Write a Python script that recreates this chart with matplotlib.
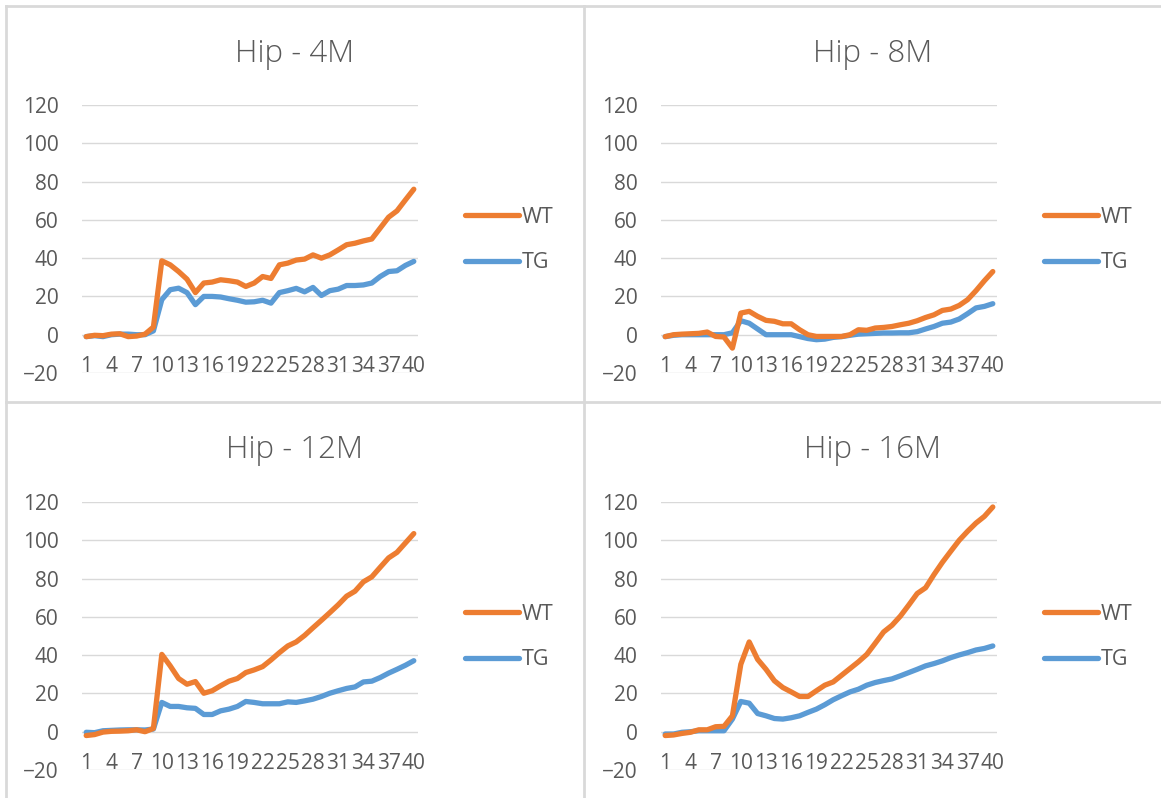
import matplotlib
matplotlib.use("Agg")
import matplotlib.pyplot as plt
from matplotlib.lines import Line2D

plt.rcParams['font.family'] = ['Open Sans', 'DejaVu Sans']

# ---- data -------------------------------------------------------------
days = list(range(1, 41))
tick_days = list(range(1, 41, 3))
y_ticks = [-20, 0, 20, 40, 60, 80, 100, 120]
series_names = ["WT", "TG"]
panel_titles = ["Hip - 4M", "Hip - 8M", "Hip - 12M", "Hip - 16M"]

hip4_wt = [-1, -0.3, -0.5, 0.3, 0.5, -1, -0.7, 0.3, 4, 38.6, 36.5, 33, 29, 22, 27,
           27.5, 28.7, 28.2, 27.5, 25.2, 27, 30.4, 29.4, 36.5, 37.4, 39, 39.5, 41.7,
           40, 41.7, 44.3, 47, 47.8, 49, 50, 55.7, 61.4, 64.7, 70.4, 76]
hip4_tg = [-1, -0.5, -1, 0, 0.3, 0.3, 0, 0, 2, 18.3, 23.5, 24.3, 22, 15.7, 20, 20,
           19.7, 18.8, 18, 17, 17.2, 18, 16.5, 22, 23, 24.2, 22.4, 24.7, 20.5, 23,
           23.8, 25.7, 25.7, 26, 27, 30.4, 33, 33.4, 36.2, 38.3]

hip8_wt = [-1, 0, 0.3, 0.5, 0.7, 1.4, -0.9, -1.2, -7, 11.3, 12.2, 9.6, 7.5, 7, 5.7,
           5.7, 2.6, 0, -0.9, -0.9, -0.9, -0.9, 0, 2.6, 2.3, 3.5, 3.8, 4.3, 5.2, 6,
           7.3, 9, 10.4, 12.7, 13.4, 15.3, 18.3, 23, 28.2, 33]
hip8_tg = [-1, -0.3, 0, 0, 0, 0, 0, 0, 1, 7.3, 6, 3, 0, 0, 0, 0, -1, -2, -2.6, -2.3,
           -1.4, -1, -0.3, 0.3, 0.5, 0.7, 0.9, 0.9, 1, 1, 1.6, 3, 4.3, 6, 6.6, 8.2,
           11, 14, 14.8, 16.2]

hip12_wt = [-2, -1.5, -0.2, 0.2, 0.3, 0.5, 1, 0, 1.7, 40.4, 34.4, 27.8, 24.8, 26.2,
            20.1, 21.4, 24, 26.4, 27.8, 30.9, 32.3, 34, 37.5, 41.3, 44.8, 46.9, 50.3,
            54.3, 58.2, 62.2, 66.3, 70.8, 73.4, 78.3, 80.9, 85.9, 90.8, 93.7, 98.6,
            103.5]
hip12_tg = [-0.3, -0.5, 0.5, 0.7, 0.9, 1, 1, 0.9, 1.4, 15.3, 13.2, 13.2, 12.5, 12.2,
            9, 9, 10.9, 11.8, 13.2, 15.8, 15.3, 14.6, 14.6, 14.6, 15.6, 15.3, 16.1,
            17, 18.4, 20.1, 21.4, 22.6, 23.4, 26, 26.4, 28.3, 30.6, 32.6, 34.7, 37.1]

hip16_wt = [-2, -1.7, -0.9, -0.3, 1, 1, 2.6, 2.8, 8.3, 35.2, 46.9, 37.8, 32.6, 26.6,
            23.1, 20.8, 18.4, 18.4, 21.4, 24.3, 26, 29.5, 33, 36.5, 40.4, 46.2, 52.1,
            55.6, 60.4, 66.2, 72.2, 75.2, 82.1, 88.5, 94.3, 100, 104.7, 109, 112.5,
            117.4]
hip16_tg = [-1.2, -1.2, -0.3, 0, 0.5, 0.5, 0.5, 0.5, 6.6, 15.8, 14.9, 9.5, 8.3, 6.9,
            6.6, 7.3, 8.3, 10.1, 11.8, 14.1, 16.7, 18.8, 20.8, 22.2, 24.3, 25.7, 26.7,
            27.6, 29.2, 30.9, 32.6, 34.4, 35.6, 37, 38.7, 40.1, 41.3, 42.7, 43.5, 44.8]

panel_data = [(hip4_wt, hip4_tg), (hip8_wt, hip8_tg),
              (hip12_wt, hip12_tg), (hip16_wt, hip16_tg)]

# ---- style ------------------------------------------------------------
W, H = 1161, 798
ORANGE = "#ED7D31"
BLUE = "#5B9BD5"
GRID = "#D9D9D9"
TEXT = "#595959"

fig = plt.figure(figsize=(W / 100, H / 100), dpi=100)
fig.patch.set_facecolor("white")


def px_axes(left, top, width, height):
    return fig.add_axes([left / W, 1 - (top + height) / H, width / W, height / H])


# panel layout in pixels: (plot left, plot top, chart-area centre x, chart top)
layout = [(82, 105, 295, 6), (661, 105, 873, 6),
          (82, 502, 295, 402), (661, 502, 873, 402)]
plot_w, plot_h = 336, 268

for (wt, tg), title, (left, top, cx, ctop) in zip(panel_data, panel_titles, layout):
    ax = px_axes(left, top, plot_w, plot_h)
    ax.set_xlim(0.5, 40.5)
    ax.set_ylim(-20, 120)
    for s in ax.spines.values():
        s.set_visible(False)
    ax.set_yticks(y_ticks)
    ax.yaxis.grid(True, color=GRID, linewidth=1.0)
    ax.set_axisbelow(True)
    ax.set_xticks(tick_days)
    ax.set_xticklabels([str(d) for d in tick_days])
    ax.tick_params(axis='both', length=0, colors=TEXT, labelsize=15)
    ax.tick_params(axis='y', pad=17)
    ax.tick_params(axis='x', pad=-12)
    l1, = ax.plot(days, wt, color=ORANGE, lw=3.8, solid_joinstyle='round',
                  solid_capstyle='round', label=series_names[0], zorder=3)
    l2, = ax.plot(days, tg, color=BLUE, lw=3.8, solid_joinstyle='round',
                  solid_capstyle='round', label=series_names[1], zorder=2)

    fig.text(cx / W, 1 - (ctop + 56) / H, title, ha='center', va='baseline',
             fontsize=22.5, color=TEXT, fontweight='light')

    # legend to the right of the plot
    leg_x = left + plot_w + 47
    leg_y = top + 135
    leg = ax.legend(handles=[l1, l2], loc='center left',
                    bbox_to_anchor=(leg_x / W, 1 - leg_y / H),
                    bbox_transform=fig.transFigure, frameon=False,
                    fontsize=15.5, handlelength=2.5, handletextpad=0.15,
                    labelspacing=1.15, borderpad=0, borderaxespad=0)
    for t in leg.get_texts():
        t.set_color(TEXT)

# chart borders
border = dict(color=GRID, linewidth=2.0, transform=fig.transFigure)
fig.add_artist(Line2D([6 / W, 1], [1 - 6 / H, 1 - 6 / H], **border))
fig.add_artist(Line2D([6 / W, 6 / W], [1 - 6 / H, 0], **border))
fig.add_artist(Line2D([584 / W, 584 / W], [1 - 6 / H, 0], **border))
fig.add_artist(Line2D([6 / W, 1], [1 - 402 / H, 1 - 402 / H], **border))

fig.savefig("out.png", dpi=100, facecolor="white")
